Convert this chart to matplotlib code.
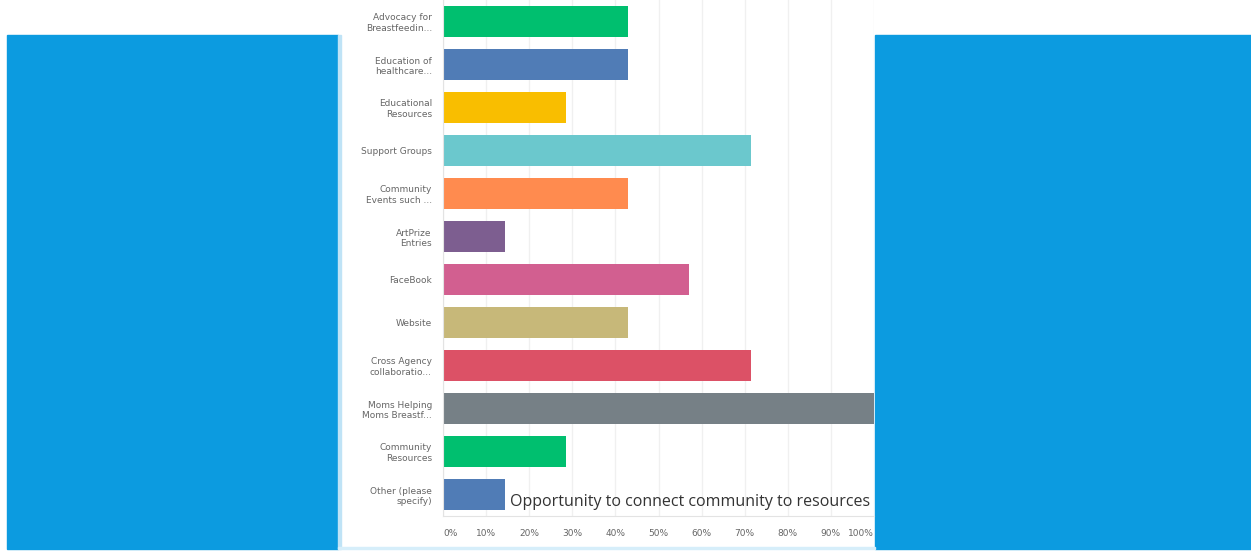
import numpy as np
import matplotlib.pyplot as plt
from matplotlib.patches import Rectangle

labels = ["Advocacy for\nBreastfeedin...", "Education of\nhealthcare...", "Educational\nResources",
          "Support Groups", "Community\nEvents such ...", "ArtPrize\nEntries", "FaceBook", "Website",
          "Cross Agency\ncollaboratio...", "Moms Helping\nMoms Breastf...", "Community\nResources",
          "Other (please\nspecify)"]
values = [42.86, 42.86, 28.57, 71.43, 42.86, 14.29, 57.14, 42.86, 71.43, 100.0, 28.57, 14.29]
colors = ["#00BF6F", "#507CB6", "#F9BE00", "#6BC8CD", "#FF8B4F", "#7D5E90",
          "#D25F90", "#C7B879", "#DC5166", "#768086", "#00BF6F", "#507CB6"]
xticks = np.arange(0, 101, 10)
xticklabels = [f"{t}%" for t in xticks]
note = "Opportunity to connect community to resources"

W, H = 1251, 551
fig = plt.figure(figsize=(W / 100, H / 100), dpi=100)
fig.patch.set_facecolor("white")

# blue side panels, kept behind the chart
blue = "#0C9BE0"
fig.patches.append(Rectangle((7 / W, 2 / H), (338 - 7) / W, (516 - 2) / H,
                             transform=fig.transFigure, color=blue, zorder=-5))
fig.patches.append(Rectangle((875 / W, 2 / H), (W - 875) / W, (516 - 2) / H,
                             transform=fig.transFigure, color=blue, zorder=-5))
fig.patches.append(Rectangle((338 / W, 2 / H), 3 / W, (516 - 2) / H,
                             transform=fig.transFigure, color="#BFE3F6", zorder=-5))
fig.patches.append(Rectangle((338 / W, 2 / H), (875 - 338) / W, 2 / H,
                             transform=fig.transFigure, color="#D6EEFA", zorder=-5))

ax = fig.add_axes([443 / W, 35 / H, (874 - 443) / W, (H - 35) / H])
ax.set_facecolor("white")
y = np.arange(len(values))
ax.barh(y, values, height=0.72, color=colors, zorder=2)
ax.set_ylim(len(values) - 0.5, -0.5)
ax.set_xlim(0, 100)

ax.set_yticks(y)
ax.set_yticklabels(labels, fontsize=6.5, color="#666666", linespacing=1.25)
ax.set_xticks(xticks)
ax.set_xticklabels(xticklabels, fontsize=6.5, color="#666666")
ax.get_xticklabels()[0].set_ha("left")
ax.get_xticklabels()[-1].set_ha("right")
ax.tick_params(length=0, pad=8)
ax.tick_params(axis="x", pad=9)

ax.grid(axis="x", color="#F0F0F0", linewidth=1, zorder=0)
for s in ["top", "right"]:
    ax.spines[s].set_visible(False)
ax.spines["left"].set_color("#E3E3E3")
ax.spines["bottom"].set_color("#E3E3E3")

ax.text(15.5, 11.27, note, fontsize=11.5, color="#333333", family="Open Sans",
        va="baseline", zorder=3, clip_on=False)

fig.savefig("out.png", dpi=100)
